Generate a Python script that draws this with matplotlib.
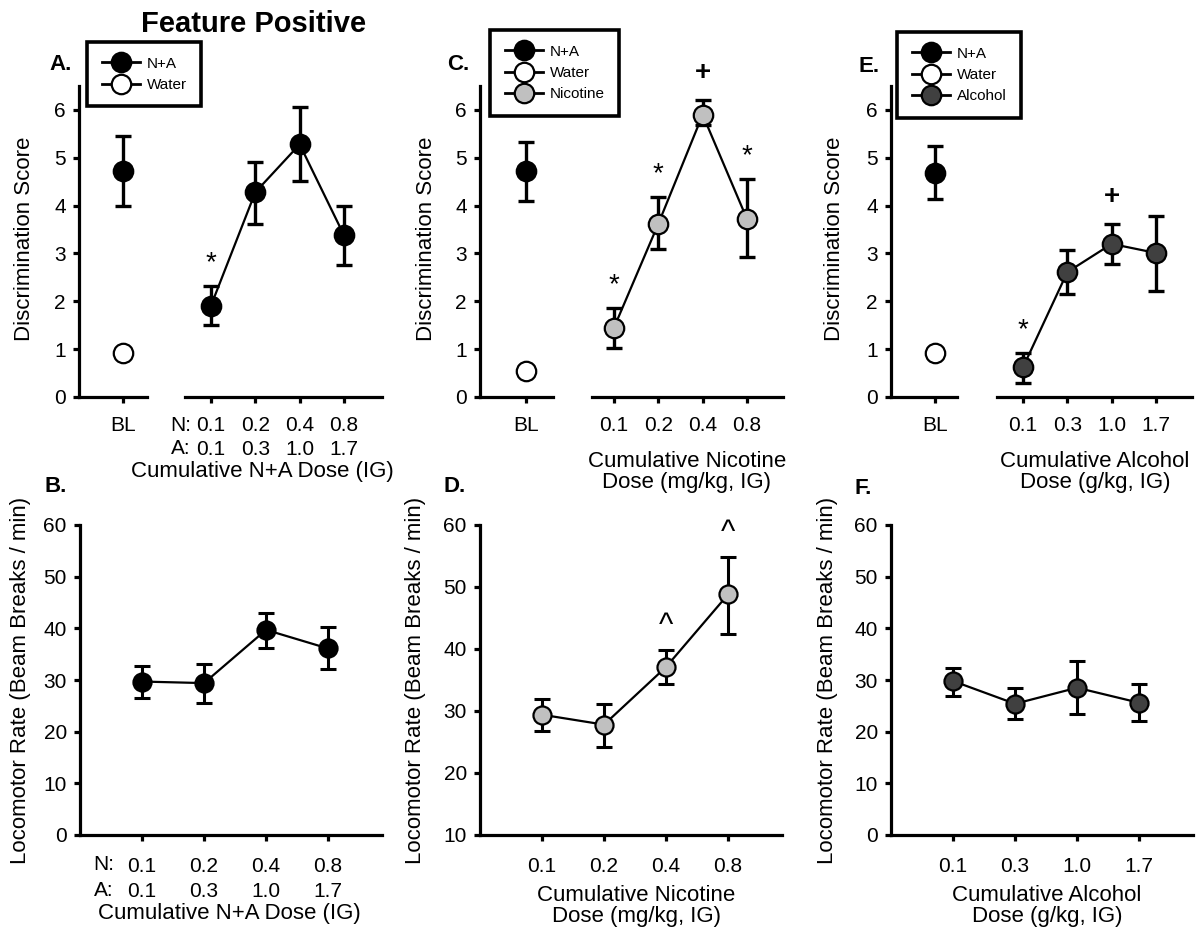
import matplotlib
matplotlib.use("Agg")
import matplotlib.pyplot as plt
from matplotlib.lines import Line2D

plt.rcParams['font.family'] = ['Liberation Sans', 'DejaVu Sans']

# ---------------- data ----------------
# Top row: discrimination scores
bl_na_A, bl_na_A_lo, bl_na_A_hi = 4.72, 4.00, 5.45
bl_w_A, bl_w_A_lo, bl_w_A_hi = 0.92, 0.82, 1.02
na_labels_top = ["0.1\n0.1", "0.2\n0.3", "0.4\n1.0", "0.8\n1.7"]
na_disc = [1.91, 4.28, 5.28, 3.38]
na_disc_lo = [1.50, 3.62, 4.51, 2.76]
na_disc_hi = [2.33, 4.92, 6.06, 3.99]
na_disc_marks = ["*", "", "", ""]

bl_na_C, bl_na_C_lo, bl_na_C_hi = 4.72, 4.10, 5.34
bl_w_C, bl_w_C_lo, bl_w_C_hi = 0.55, 0.45, 0.65
nic_labels = ["0.1", "0.2", "0.4", "0.8"]
nic_disc = [1.45, 3.62, 5.90, 3.72]
nic_disc_lo = [1.03, 3.10, 5.68, 2.92]
nic_disc_hi = [1.87, 4.18, 6.20, 4.55]
nic_disc_marks = ["*", "*", "+", "*"]

bl_na_E, bl_na_E_lo, bl_na_E_hi = 4.69, 4.13, 5.25
bl_w_E, bl_w_E_lo, bl_w_E_hi = 0.92, 0.82, 1.02
alc_labels = ["0.1", "0.3", "1.0", "1.7"]
alc_disc = [0.62, 2.61, 3.20, 3.01]
alc_disc_lo = [0.30, 2.15, 2.78, 2.21]
alc_disc_hi = [0.93, 3.08, 3.62, 3.79]
alc_disc_marks = ["*", "", "+", ""]

# Bottom row: locomotor rates
na_loco = [29.7, 29.4, 39.7, 36.1]
na_loco_lo = [26.6, 25.6, 36.1, 32.1]
na_loco_hi = [32.8, 33.1, 42.9, 40.2]
na_labels_bot = ["0.1\n0.1", "0.2\n0.3", "0.4\n1.0", "0.8\n1.7"]

nic_loco = [29.4, 27.8, 37.1, 48.8]
nic_loco_lo = [26.7, 24.2, 34.4, 42.5]
nic_loco_hi = [32.0, 31.2, 39.8, 54.8]
nic_loco_marks = ["", "", "^", "^"]

alc_loco = [29.8, 25.4, 28.5, 25.6]
alc_loco_lo = [26.9, 22.4, 23.5, 22.1]
alc_loco_hi = [32.4, 28.5, 33.7, 29.2]

C_NA = "black"
C_W = "white"
C_NIC = "#c0c0c0"
C_ALC = "#404040"

# ---------------- figure ----------------
W, H = 1203, 933
fig = plt.figure(figsize=(W / 100, H / 100), dpi=100)

SPINE_LW = 2.3
TICK_FS = 15
LABEL_FS = 16
MS = 14
MEW = 1.6


def fx(px):
    return px / W


def fy(py):
    return 1 - py / H


def style(ax, xpad, show_left=True):
    for s in ["top", "right"]:
        ax.spines[s].set_visible(False)
    ax.spines["bottom"].set_linewidth(SPINE_LW)
    ax.spines["left"].set_linewidth(SPINE_LW)
    if not show_left:
        ax.spines["left"].set_visible(False)
        ax.tick_params(axis="y", left=False, labelleft=False)
    ax.tick_params(axis="both", direction="out", length=4.5, width=SPINE_LW,
                   labelsize=TICK_FS, colors="black")
    ax.tick_params(axis="x", pad=xpad)
    ax.tick_params(axis="y", pad=5)
    ax.patch.set_alpha(0)


def errpoint(ax, x, y, lo, hi, fc, ms=MS, elw=2.4, cap=5.5):
    ax.errorbar([x], [y], yerr=[[y - lo], [hi - y]], fmt="none", ecolor="black",
                elinewidth=elw, capsize=cap, capthick=elw, zorder=2)
    ax.plot([x], [y], "o", ms=ms, mfc=fc, mec="black", mew=MEW, zorder=3)


def series(ax, xs, ys, lo, hi, fc, ms=MS, elw=2.4, cap=5.5):
    yerr = [[y - l for y, l in zip(ys, lo)], [h - y for y, h in zip(ys, hi)]]
    ax.errorbar(xs, ys, yerr=yerr, fmt="none", ecolor="black",
                elinewidth=elw, capsize=cap, capthick=elw, zorder=2)
    ax.plot(xs, ys, "-", color="black", lw=1.6, zorder=2.5)
    ax.plot(xs, ys, "o", ms=ms, mfc=fc, mec="black", mew=MEW, zorder=3)


# ---- top row ----
TOP_Y0, TOP_Y1 = 86, 397
BOT_Y0, BOT_Y1 = 525, 835

top_layout = {
    # left_l, bl, left_r, right_l, first, last, right_r
    "A": (79, 123, 147, 185, 211, 344, 382),
    "C": (480, 526, 553, 592, 614, 747, 783),
    "E": (891, 935, 957, 997, 1023, 1156, 1192),
}

top_panels = {
    "A": dict(bl=[(bl_na_A, bl_na_A_lo, bl_na_A_hi, C_NA), (bl_w_A, bl_w_A_lo, bl_w_A_hi, C_W)],
              y=na_disc, lo=na_disc_lo, hi=na_disc_hi, fc=C_NA, labels=na_labels_top,
              marks=na_disc_marks,
              legend=[("N+A", C_NA), ("Water", C_W)], leg_xy=(87, 42),
              xlabel="Cumulative N+A Dose (IG)", xlab_xy=(262, 472),
              ylab_x=25, letter_xy=(49, 65)),
    "C": dict(bl=[(bl_na_C, bl_na_C_lo, bl_na_C_hi, C_NA), (bl_w_C, bl_w_C_lo, bl_w_C_hi, C_W)],
              y=nic_disc, lo=nic_disc_lo, hi=nic_disc_hi, fc=C_NIC, labels=nic_labels,
              marks=nic_disc_marks,
              legend=[("N+A", C_NA), ("Water", C_W), ("Nicotine", C_NIC)], leg_xy=(490, 30),
              xlabel="Cumulative Nicotine\nDose (mg/kg, IG)", xlab_xy=(687, 472),
              ylab_x=427, letter_xy=(447, 65)),
    "E": dict(bl=[(bl_na_E, bl_na_E_lo, bl_na_E_hi, C_NA), (bl_w_E, bl_w_E_lo, bl_w_E_hi, C_W)],
              y=alc_disc, lo=alc_disc_lo, hi=alc_disc_hi, fc=C_ALC, labels=alc_labels,
              marks=alc_disc_marks,
              legend=[("N+A", C_NA), ("Water", C_W), ("Alcohol", C_ALC)], leg_xy=(897, 32),
              xlabel="Cumulative Alcohol\nDose (g/kg, IG)", xlab_xy=(1095, 472),
              ylab_x=835, letter_xy=(858, 66)),
}

for key, (ll, blx, lr, rl, first, last, rr) in top_layout.items():
    p = top_panels[key]
    sp = (last - first) / 3.0
    hgt = (TOP_Y1 - TOP_Y0) / H
    bot = 1 - TOP_Y1 / H
    axL = fig.add_axes([fx(ll), bot, (lr - ll) / W, hgt])
    axR = fig.add_axes([fx(rl), bot, (rr - rl) / W, hgt])
    style(axL, 9.5)
    style(axR, 9.5, show_left=False)
    for ax in (axL, axR):
        ax.set_ylim(0, 6.5)
    axL.set_yticks(range(0, 7))
    axL.set_xlim(-(blx - ll) / sp, (lr - blx) / sp)
    axL.set_xticks([0])
    axL.set_xticklabels(["BL"])
    xs = [1, 2, 3, 4]
    axR.set_xlim(1 - (first - rl) / sp, 4 + (rr - last) / sp)
    axR.set_xticks(xs)
    axR.set_xticklabels(p["labels"])
    for t in axR.get_xticklabels():
        t.set_linespacing(1.29)
    for (v, lo, hi, fc) in p["bl"]:
        errpoint(axL, 0, v, lo, hi, fc)
    series(axR, xs, p["y"], p["lo"], p["hi"], p["fc"])
    for x, hi, m in zip(xs, p["hi"], p["marks"]):
        if m == "*":
            axR.annotate("*", (x, hi), xytext=(0, 7), textcoords="offset points",
                         ha="center", va="bottom", fontsize=20)
        elif m == "+":
            axR.annotate("+", (x, hi), xytext=(0, 10), textcoords="offset points",
                         ha="center", va="bottom", fontsize=20, fontweight="bold")
    axL.set_ylabel("Discrimination Score", fontsize=LABEL_FS, va="center")
    axL.yaxis.set_label_coords(fx(p["ylab_x"]), fy((TOP_Y0 + TOP_Y1) / 2 - 3),
                               transform=fig.transFigure)
    fig.text(fx(p["xlab_xy"][0]), fy(p["xlab_xy"][1]), p["xlabel"], ha="center", va="center",
             fontsize=LABEL_FS, linespacing=1.05)
    fig.text(fx(p["letter_xy"][0]), fy(p["letter_xy"][1]), key + ".", ha="left", va="center",
             fontsize=16, fontweight="bold")
    handles = [Line2D([], [], color="black", lw=2.0, marker="o", ms=MS, mfc=c,
                      mec="black", mew=MEW) for _, c in p["legend"]]
    leg = fig.legend(handles, [n for n, _ in p["legend"]], loc="upper left",
                     bbox_to_anchor=(fx(p["leg_xy"][0]), fy(p["leg_xy"][1])),
                     bbox_transform=fig.transFigure, borderaxespad=0, fontsize=11,
                     frameon=True, fancybox=False, edgecolor="black", framealpha=1,
                     handlelength=2.5, handletextpad=0.45, labelspacing=0.48,
                     borderpad=0.95, numpoints=1)
    leg.get_frame().set_linewidth(2.6)

# N:/A: prefixes for panel A (top)
fig.text(fx(181), fy(425), "N:", ha="center", va="center", fontsize=TICK_FS)
fig.text(fx(181), fy(449), "A:", ha="center", va="center", fontsize=TICK_FS)

fig.text(fx(254), fy(24), "Feature Positive", ha="center", va="center",
         fontsize=21, fontweight="bold")

# ---- bottom row ----
bot_layout = {"B": 80, "D": 480, "F": 891}
bot_panels = {
    "B": dict(y=na_loco, lo=na_loco_lo, hi=na_loco_hi, fc=C_NA, labels=na_labels_bot,
              marks=["", "", "", ""], ylim=(0, 60), xlabel="Cumulative N+A Dose (IG)",
              xlab_xy=(229, 913), ylab_x=21, letter_xy=(44, 486)),
    "D": dict(y=nic_loco, lo=nic_loco_lo, hi=nic_loco_hi, fc=C_NIC, labels=nic_labels,
              marks=nic_loco_marks, ylim=(10, 60), xlabel="Cumulative Nicotine\nDose (mg/kg, IG)",
              xlab_xy=(636, 906), ylab_x=415, letter_xy=(443, 487)),
    "F": dict(y=alc_loco, lo=alc_loco_lo, hi=alc_loco_hi, fc=C_ALC, labels=alc_labels,
              marks=["", "", "", ""], ylim=(0, 60), xlabel="Cumulative Alcohol\nDose (g/kg, IG)",
              xlab_xy=(1047, 906), ylab_x=827, letter_xy=(855, 488)),
}
for key, ll in bot_layout.items():
    p = bot_panels[key]
    ax = fig.add_axes([fx(ll), 1 - BOT_Y1 / H, 302 / W, (BOT_Y1 - BOT_Y0) / H])
    style(ax, 11)
    ax.set_ylim(*p["ylim"])
    ax.set_yticks(range(p["ylim"][0], 61, 10))
    ax.set_xlim(0, 4.87)
    xs = [1, 2, 3, 4]
    ax.set_xticks(xs)
    ax.set_xticklabels(p["labels"])
    for t in ax.get_xticklabels():
        t.set_linespacing(1.45)
    series(ax, xs, p["y"], p["lo"], p["hi"], p["fc"], ms=13, elw=2.2, cap=5.5)
    for x, hi, m in zip(xs, p["hi"], p["marks"]):
        if m == "^":
            ax.annotate("^", (x, hi), xytext=(0, 7), textcoords="offset points",
                        ha="center", va="bottom", fontsize=22)
    ax.set_ylabel("Locomotor Rate (Beam Breaks / min)", fontsize=LABEL_FS, va="center")
    ax.yaxis.set_label_coords(fx(p["ylab_x"]), fy(680), transform=fig.transFigure)
    fig.text(fx(p["xlab_xy"][0]), fy(p["xlab_xy"][1]), p["xlabel"], ha="center", va="center",
             fontsize=LABEL_FS, linespacing=1.05)
    fig.text(fx(p["letter_xy"][0]), fy(p["letter_xy"][1]), key + ".", ha="left", va="center",
             fontsize=16, fontweight="bold")

fig.text(fx(104), fy(865), "N:", ha="center", va="center", fontsize=TICK_FS)
fig.text(fx(104), fy(891), "A:", ha="center", va="center", fontsize=TICK_FS)

fig.savefig("out.png", dpi=100, facecolor="white")
